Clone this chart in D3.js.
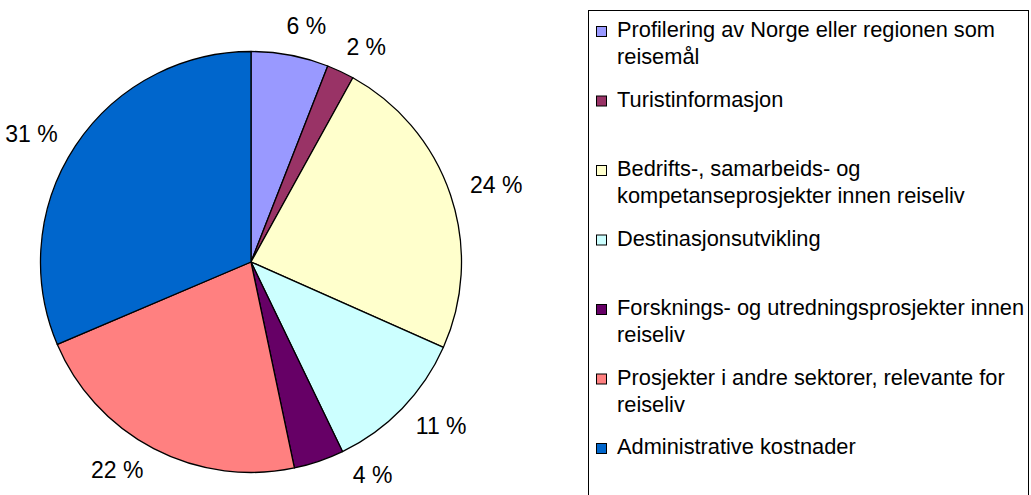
<!DOCTYPE html>
<html>
<head>
<meta charset="utf-8">
<script src="https://cdn.jsdelivr.net/npm/d3@7"></script>
<style>
  body { margin: 0; background: #fff; }
  svg { display: block; font-family: "Liberation Sans", Arial, sans-serif; }
</style>
</head>
<body>
<svg id="chart" width="1031" height="495"></svg>
<script>
// data
var categories = [
  'Profilering av Norge eller regionen som reisemål',
  'Turistinformasjon',
  'Bedrifts-, samarbeids- og kompetanseprosjekter innen reiseliv',
  'Destinasjonsutvikling',
  'Forsknings- og utredningsprosjekter innen reiseliv',
  'Prosjekter i andre sektorer, relevante for reiseliv',
  'Administrative kostnader'
];
var legendLines = [
  ['Profilering av Norge eller regionen som', 'reisemål'],
  ['Turistinformasjon'],
  ['Bedrifts-, samarbeids- og', 'kompetanseprosjekter innen reiseliv'],
  ['Destinasjonsutvikling'],
  ['Forsknings- og utredningsprosjekter innen', 'reiseliv'],
  ['Prosjekter i andre sektorer, relevante for', 'reiseliv'],
  ['Administrative kostnader']
];
var values = [5.94, 2.1, 23.6, 11.2, 3.85, 21.9, 31.4];
var pctLabels = ['6 %', '2 %', '24 %', '11 %', '4 %', '22 %', '31 %'];
var colors = ['#9999FF', '#993366', '#FFFFCC', '#CCFFFF', '#660066', '#FF8080', '#0066CC'];

// excel moves some labels a bit around the rim (degrees)
var labelNudge = [2, 2, 0, -1.6, -10, 3.6, -1.5];

var svg = d3.select('#chart');

var cx = 251, cy = 262, r = 210.5;

var pie = d3.pie().sort(null).value(function(d) { return d; });
var arcs = pie(values);
var arc = d3.arc().innerRadius(0).outerRadius(r);

var g = svg.append('g').attr('transform', 'translate(' + cx + ',' + cy + ')');

g.selectAll('path.slice')
  .data(arcs)
  .enter().append('path')
  .attr('class', 'slice')
  .attr('d', arc)
  .attr('fill', function(d, i) { return colors[i]; })
  .attr('stroke', '#000')
  .attr('stroke-width', 1.3)
  .attr('stroke-linejoin', 'round');

// percent labels outside the pie
var gap = 22, fs = 23;
g.selectAll('text.pct')
  .data(arcs)
  .enter().append('text')
  .attr('class', 'pct')
  .attr('font-size', fs + 'px')
  .attr('fill', '#000')
  .attr('text-anchor', 'middle')
  .text(function(d, i) { return pctLabels[i]; })
  .each(function(d, i) {
    var a = (d.startAngle + d.endAngle) / 2 + labelNudge[i] * Math.PI / 180;
    var w = this.getComputedTextLength();
    var h = 20;
    var x = Math.sin(a) * (r + gap + w / 2);
    var y = -Math.cos(a) * (r + gap + h / 2);
    d3.select(this).attr('x', x).attr('y', y + fs * 0.36);
  });

// legend
var lx = 588, ly = 10;
svg.append('rect')
  .attr('x', lx + 0.5)
  .attr('y', ly + 0.5)
  .attr('width', 440)
  .attr('height', 500)
  .attr('fill', '#fff')
  .attr('stroke', '#000')
  .attr('stroke-width', 1);

var yLeg = d3.scaleLinear().domain([0, categories.length - 1]).range([37, 454]);

var items = svg.selectAll('g.leg')
  .data(categories)
  .enter().append('g')
  .attr('class', 'leg')
  .attr('transform', function(d, i) { return 'translate(0,' + yLeg(i) + ')'; });

items.append('rect')
  .attr('x', 596.5)
  .attr('y', -10.5)
  .attr('width', 10)
  .attr('height', 10)
  .attr('fill', function(d, i) { return colors[i]; })
  .attr('stroke', '#000')
  .attr('stroke-width', 1);

items.append('text')
  .attr('x', 617)
  .attr('font-size', '21.8px')
  .attr('fill', '#000')
  .selectAll('tspan')
  .data(function(d, i) { return legendLines[i]; })
  .enter().append('tspan')
  .attr('x', 617)
  .attr('y', function(d, j) { return j * 27; })
  .text(function(d) { return d; });
</script>
</body>
</html>
